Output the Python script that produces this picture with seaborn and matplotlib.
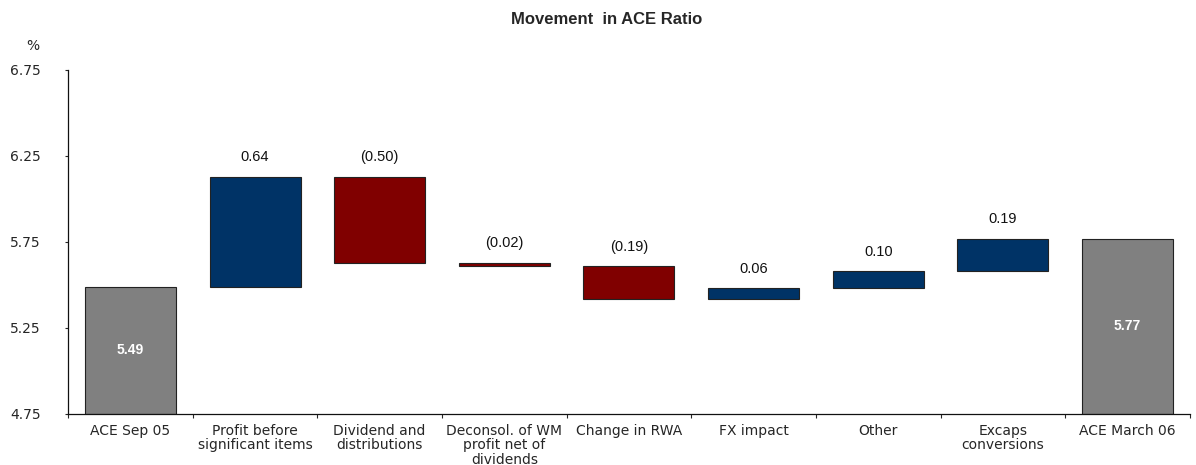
from matplotlib import pyplot as plt
import numpy as np
import pandas as pd
import seaborn as sns


CATEGORIES = [
    "ACE Sep 05",
    "Profit before\nsignificant items",
    "Dividend and\ndistributions",
    "Deconsol. of WM\nprofit net of\ndividends",
    "Change in RWA",
    "FX impact",
    "Other",
    "Excaps\nconversions",
    "ACE March 06",
]
START_VALUE = 5.49
MOVEMENTS = [0.64, -0.50, -0.02, -0.19, 0.06, 0.10, 0.19]
END_VALUE = 5.77

Y_MIN = 4.75
Y_TICKS = [4.75, 5.25, 5.75, 6.25, 6.75]

GREY = "#808080"
BLUE = "#003366"
RED = "#800000"


def build_frame() -> pd.DataFrame:
    """Turn the start value and movements into bottom / height pairs for a waterfall."""
    bottoms, heights, colors, labels = [Y_MIN], [START_VALUE - Y_MIN], [GREY], [f"{START_VALUE:.2f}"]
    level = START_VALUE
    for m in MOVEMENTS:
        new_level = level + m
        bottoms.append(min(level, new_level))
        heights.append(abs(m))
        colors.append(BLUE if m >= 0 else RED)
        labels.append(f"{m:.2f}" if m >= 0 else f"({abs(m):.2f})")
        level = new_level
    bottoms.append(Y_MIN)
    heights.append(END_VALUE - Y_MIN)
    colors.append(GREY)
    labels.append(f"{END_VALUE:.2f}")
    return pd.DataFrame(dict(category=CATEGORIES, bottom=bottoms, height=heights, color=colors, label=labels))


def main():
    df = build_frame()

    sns.set_style("white")
    plt.rcParams["font.family"] = ["DejaVu Sans"]
    arial = ["Liberation Sans", "DejaVu Sans"]

    fig = plt.figure(figsize=(11.96, 4.65), dpi=100)
    ax = fig.add_axes([0.0569, 0.1097, 0.938, 0.7398])

    palette = dict(zip(df["category"], df["color"]))
    sns.barplot(data=df, x="category", y="height", hue="category", palette=palette,
                legend=False, width=0.73, edgecolor="#222222", linewidth=0.8,
                saturation=1, ax=ax)

    # shift each bar to its waterfall bottom
    for patch, bottom in zip(ax.patches, df["bottom"]):
        patch.set_y(bottom)

    n = len(df)
    for i, row in df.iterrows():
        top = row["bottom"] + row["height"]
        if i in (0, n - 1):
            ax.text(i, row["bottom"] + row["height"] / 2, row["label"], ha="center", va="center",
                    color="white", fontweight="bold", fontsize=10, family=arial)
        else:
            ax.annotate(row["label"], (i, top), xytext=(0, 9), textcoords="offset points",
                        ha="center", va="bottom", fontsize=10.5, color="#111111", family=arial)

    ax.set_xlim(-0.5, n - 0.5)
    ax.set_ylim(Y_MIN, 6.75)
    ax.set_yticks(Y_TICKS)
    ax.set_yticklabels([f"{t:.2f}" for t in Y_TICKS], fontsize=10)
    ax.set_xticks(range(n))
    ax.set_xticklabels(df["category"], fontsize=10, linespacing=1.05)
    ax.tick_params(axis="x", length=0, pad=7)
    ax.tick_params(axis="y", length=2.5, width=0.8, direction="out", left=True, pad=39)
    for lbl in ax.get_yticklabels():
        lbl.set_horizontalalignment("left")

    # category separator ticks along the x axis
    ax.set_xticks(np.arange(-0.5, n, 1.0), minor=True)
    ax.tick_params(axis="x", which="minor", length=3, width=0.8, direction="out", bottom=True)

    for side in ["top", "right"]:
        ax.spines[side].set_visible(False)
    for side in ["left", "bottom"]:
        ax.spines[side].set_color("#111111")
        ax.spines[side].set_linewidth(0.9)

    ax.set_xlabel("")
    ax.set_ylabel("")
    fig.text(0.507, 0.957, "Movement  in ACE Ratio", ha="center", va="center", fontsize=12,
             fontweight="bold", family=arial)
    fig.text(0.022, 0.901, "%", ha="left", va="center", fontsize=10)

    fig.savefig("out.png", dpi=100)


if __name__ == "__main__":
    main()
